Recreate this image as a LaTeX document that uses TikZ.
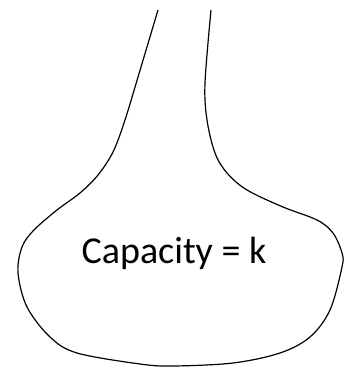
\documentclass[tikz,border=0pt]{standalone}
\usepackage{fontspec}
\setmainfont{Carlito}
\usetikzlibrary{positioning}

\tikzset{
  flask/.style={draw=black, line width=1.2pt, line join=round},
  caplabel/.style={font=\fontsize{38}{40}\selectfont, inner sep=0pt}
}

\begin{document}
\begin{tikzpicture}[x=1pt, y=-1pt]
  \useasboundingbox (0,0) rectangle (344,368);
  % open flask outline, from left stem top round to right stem top
  \draw[flask] plot[smooth, tension=0.55] coordinates {
    (158,10) (141,67) (125,120) (113,152) (98,175) (80,193) (57,210)
    (34,230) (22,247) (18,273) (27,307) (50,337) (77,353) (140,364)
    (173,366) (233,363) (280,353) (310,337) (330,310) (342,267)
    (342,253) (333,233) (317,220) (283,207) (247,190) (227,173)
    (215,153) (207,120) (205,83) (211,10)};
  % label
  \node[caplabel] (cap) at (174,253) {Capacity = k};
\end{tikzpicture}
\end{document}
